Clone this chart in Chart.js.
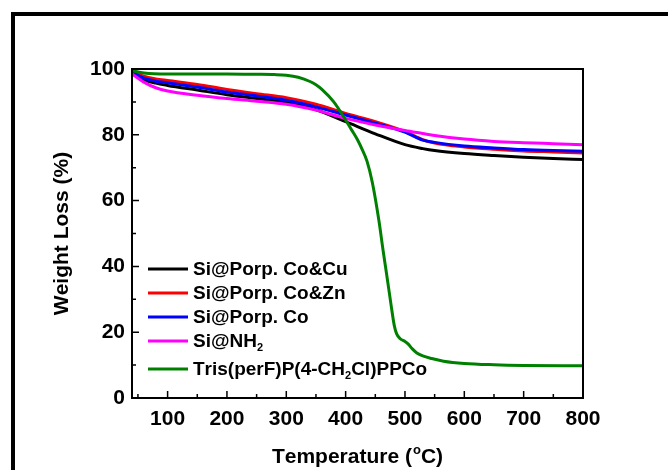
<!DOCTYPE html>
<html>
<head>
<meta charset="utf-8">
<script src="https://cdn.jsdelivr.net/npm/chart.js@4/dist/chart.umd.min.js"></script>
<style>
  html, body { margin: 0; padding: 0; background: #fff; }
</style>
</head>
<body>
<canvas id="tgaChart" width="668" height="470"></canvas>
<script>
// Données (température en °C, masse restante en %)
const seriesNames = ['Si@Porp. Co&Cu', 'Si@Porp. Co&Zn', 'Si@Porp. Co', 'Si@NH₂', 'Tris(perF)P(4-CH₂Cl)PPCo'];
const seriesColors = ['#000000', '#ff0000', '#0000ff', '#ff00ff', '#008000'];

const silicaTemps = [40, 60, 80, 100, 150, 200, 250, 300, 350, 400, 450, 500, 530, 550, 600, 650, 700, 750, 800];
const coCu = [99.0, 96.8, 95.7, 95.0, 93.6, 92.2, 91.0, 89.8, 87.6, 84.0, 80.3, 77.0, 75.8, 75.2, 74.3, 73.7, 73.2, 72.8, 72.5];
const coZn = [99.3, 97.8, 97.0, 96.5, 95.3, 93.8, 92.5, 91.3, 89.3, 86.5, 84.0, 81.0, 78.5, 77.5, 76.3, 75.6, 75.1, 74.8, 74.5];
const coOnly = [99.0, 97.2, 96.3, 95.8, 94.5, 93.0, 91.8, 90.5, 88.5, 86.0, 83.5, 80.8, 78.4, 77.7, 76.6, 76.0, 75.5, 75.2, 75.0];
const siNH2 = [98.5, 96.0, 94.3, 93.3, 92.0, 91.0, 90.2, 89.3, 87.5, 85.0, 83.0, 81.3, 80.4, 79.8, 78.7, 78.0, 77.6, 77.3, 77.0];

const complexTemps = [40, 60, 100, 200, 250, 280, 300, 320, 340, 350, 360, 380, 400, 410, 420, 428, 436, 445, 456, 463, 470, 476, 482, 486, 492, 500, 506, 512, 520, 530, 545, 565, 600, 650, 700, 800];
const complexVals = [99.5, 98.8, 98.5, 98.5, 98.4, 98.3, 98.1, 97.5, 96.2, 95.2, 93.8, 90.0, 84.5, 81.5, 78.5, 75.5, 72.0, 65.5, 54.0, 45.0, 36.5, 29.0, 22.0, 19.5, 18.0, 17.2, 16.3, 15.0, 13.7, 12.8, 12.0, 11.2, 10.5, 10.1, 9.9, 9.8];

// Graduations
const xTicks = [100, 200, 300, 400, 500, 600, 700, 800];
const xMinor = [50, 150, 250, 350, 450, 550, 650, 750];
const yTicks = [0, 20, 40, 60, 80, 100];
const yMinor = [10, 30, 50, 70, 90];

const xTitle = 'Temperature (°C)';
const yTitle = 'Weight Loss (%)';

const FONT = '"Liberation Sans", Arial, sans-serif';

const pairs = (xs, ys) => xs.map((x, i) => ({ x: x, y: ys[i] }));
const allValues = [coCu, coZn, coOnly, siNH2];
const drawOrder = [4, 5, 3, 2, 1];

const datasets = seriesNames.map((name, i) => ({
    label: name,
    data: i < 4 ? pairs(silicaTemps, allValues[i]) : pairs(complexTemps, complexVals),
    borderColor: seriesColors[i],
    backgroundColor: seriesColors[i],
    borderWidth: 3,
    pointRadius: 0,
    cubicInterpolationMode: 'monotone',
    fill: false,
    order: drawOrder[i]
}));

// Texte avec indices (₂) et exposants (°)
function drawRich(ctx, text, x, y, size) {
    let cx = x;
    for (const ch of text) {
        if (ch === '₂') {
            ctx.font = 'bold ' + Math.round(size * 0.6) + 'px ' + FONT;
            ctx.fillText('2', cx, y + size * 0.32);
            cx += ctx.measureText('2').width;
        } else if (ch === '°') {
            ctx.font = 'bold ' + Math.round(size * 0.6) + 'px ' + FONT;
            ctx.fillText('o', cx + 1, y - size * 0.33);
            cx += ctx.measureText('o').width + 1;
        } else {
            ctx.font = 'bold ' + size + 'px ' + FONT;
            ctx.fillText(ch, cx, y);
            cx += ctx.measureText(ch).width;
        }
    }
    return cx - x;
}
function richWidth(ctx, text, size) {
    let w = 0;
    for (const ch of text) {
        if (ch === '₂' || ch === '°') {
            ctx.font = 'bold ' + Math.round(size * 0.6) + 'px ' + FONT;
            w += ctx.measureText(ch === '₂' ? '2' : 'o').width + (ch === '°' ? 1 : 0);
        } else {
            ctx.font = 'bold ' + size + 'px ' + FONT;
            w += ctx.measureText(ch).width;
        }
    }
    return w;
}

const decorations = {
    id: 'decorations',
    beforeDraw(chart) {
        const ctx = chart.ctx;
        ctx.save();
        ctx.fillStyle = '#fff';
        ctx.fillRect(0, 0, chart.width, chart.height);
        // cadre extérieur
        ctx.fillStyle = '#000';
        ctx.fillRect(11, 12, 4, chart.height);
        ctx.fillRect(11, 12, chart.width, 4);
        ctx.restore();
    },
    afterDraw(chart) {
        const ctx = chart.ctx;
        const a = chart.chartArea;
        const xs = chart.scales.x, ys = chart.scales.y;
        ctx.save();
        ctx.strokeStyle = '#000';
        ctx.lineWidth = 2;
        ctx.strokeRect(a.left, a.top, a.right - a.left, a.bottom - a.top);

        // graduations vers l'intérieur
        ctx.lineWidth = 1.5;
        ctx.beginPath();
        xTicks.forEach(v => { const p = xs.getPixelForValue(v); ctx.moveTo(p, a.bottom); ctx.lineTo(p, a.bottom - 7); });
        xMinor.forEach(v => { const p = xs.getPixelForValue(v); ctx.moveTo(p, a.bottom); ctx.lineTo(p, a.bottom - 4); });
        yTicks.forEach(v => { const p = ys.getPixelForValue(v); ctx.moveTo(a.left, p); ctx.lineTo(a.left + 7, p); });
        yMinor.forEach(v => { const p = ys.getPixelForValue(v); ctx.moveTo(a.left, p); ctx.lineTo(a.left + 4, p); });
        ctx.stroke();

        // légende
        ctx.fillStyle = '#000';
        ctx.textBaseline = 'middle';
        ctx.textAlign = 'left';
        const rowY = [269, 293, 317, 341, 369];
        seriesNames.forEach((name, i) => {
            const y = rowY[i];
            ctx.strokeStyle = seriesColors[i];
            ctx.lineWidth = 3;
            ctx.beginPath();
            ctx.moveTo(a.left + 16, y);
            ctx.lineTo(a.left + 56, y);
            ctx.stroke();
            ctx.fillStyle = '#000';
            drawRich(ctx, name, a.left + 61, y + 1, 19);
        });

        // titres des axes
        const tSize = 21;
        const xw = richWidth(ctx, xTitle, tSize);
        drawRich(ctx, xTitle, (a.left + a.right) / 2 - xw / 2, 457, tSize);
        ctx.save();
        ctx.translate(62, (a.top + a.bottom) / 2);
        ctx.rotate(-Math.PI / 2);
        const yw = richWidth(ctx, yTitle, tSize);
        drawRich(ctx, yTitle, -yw / 2, 0, tSize);
        ctx.restore();
        ctx.restore();
    }
};

new Chart(document.getElementById('tgaChart'), {
    type: 'line',
    data: { datasets: datasets },
    plugins: [decorations],
    options: {
        responsive: false,
        animation: false,
        devicePixelRatio: 1,
        layout: { padding: { left: 0, right: 85, top: 69, bottom: 0 } },
        plugins: { legend: { display: false }, tooltip: { enabled: false } },
        scales: {
            x: {
                type: 'linear',
                min: 40,
                max: 800,
                grid: { display: false, drawTicks: false },
                border: { display: false },
                afterBuildTicks: s => { s.ticks = xTicks.map(v => ({ value: v })); },
                afterFit: s => { s.height = 72; },
                ticks: { color: '#000', padding: 9, maxRotation: 0, font: { family: FONT, weight: 'bold', size: 21 } }
            },
            y: {
                min: 0,
                max: 100,
                grid: { display: false, drawTicks: false },
                border: { display: false },
                afterBuildTicks: s => { s.ticks = yTicks.map(v => ({ value: v })); },
                afterFit: s => { s.width = 132; },
                ticks: { color: '#000', padding: 7, font: { family: FONT, weight: 'bold', size: 21 } }
            }
        }
    }
});
</script>
</body>
</html>
